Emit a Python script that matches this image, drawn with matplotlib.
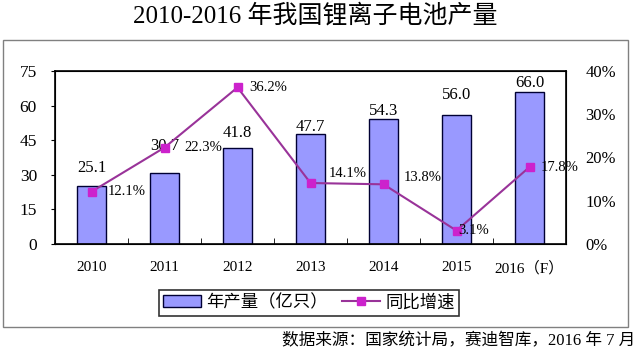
import matplotlib
matplotlib.use('Agg')
import matplotlib.pyplot as plt
import matplotlib.patches as mpatches
import numpy as np

FONTS = ['Liberation Serif', 'Noto Sans CJK SC']
plt.rcParams['font.family'] = FONTS

years = ['2010', '2011', '2012', '2013', '2014', '2015', '2016\uff08F\uff09']
output = [25.1, 30.7, 41.8, 47.7, 54.3, 56.0, 66.0]
growth = [12.1, 22.3, 36.2, 14.1, 13.8, 3.1, 17.8]

BAR_COLOR = '#9999FF'
LINE_COLOR = '#993399'
MARK_COLOR = '#CC22CC'

# label offsets in pixels (as placed in the original)
bar_lbl_dy = [18, 27, 15, 7, 8, 20, 9]
pct_lbl_off = [(16, 0), (20, 0), (12, 0), (18, 10), (20, 7), (2, 0), (11, 0)]

fig = plt.figure(figsize=(6.4, 3.53), dpi=100)
fig.patch.set_facecolor('white')

# outer grey frame
frame = mpatches.Rectangle((3 / 640, 1 - 327 / 353), 625 / 640, 287 / 353,
                           transform=fig.transFigure, fill=False,
                           edgecolor='#808080', lw=1.0)
fig.add_artist(frame)

fig.text(315 / 640, 1 - 16 / 353, '2010-2016 年我国锂离子电池产量',
         ha='center', va='center', fontsize=18, family=FONTS)

ax = fig.add_axes([55 / 640, 1 - 244 / 353, 511 / 640, 173 / 353])
x = np.arange(len(years))
ax.bar(x, output, width=0.41, color=BAR_COLOR, edgecolor='#000033',
       lw=1.0, zorder=2, label='年产量（亿只）')
ax.set_xlim(-0.5, len(years) - 0.5)
ax.set_ylim(0, 75)
ax.set_yticks(np.arange(0, 76, 15))
ax.set_xticks(x)
ax.set_xticklabels(years)
ax.set_xticks(np.arange(0.5, len(years) - 0.5, 1), minor=True)
ax.tick_params(axis='x', which='major', length=0, pad=12, labelsize=11)
ax.tick_params(axis='x', which='minor', length=4, direction='in')
ax.tick_params(axis='y', length=3, direction='out', labelsize=12.5, pad=10)
for sp in ax.spines.values():
    sp.set_linewidth(1.2)

for xi, v, dy in zip(x, output, bar_lbl_dy):
    ax.annotate(f'{v:.1f}', (xi, v), xytext=(0, dy),
                textcoords='offset pixels', ha='center', va='center',
                fontsize=12, zorder=5)

ax2 = ax.twinx()
ax2.set_ylim(0, 40)
ax2.set_yticks(np.arange(0, 41, 10))
ax2.set_yticklabels([f'{t}%' for t in range(0, 41, 10)])
ax2.tick_params(axis='y', length=0, labelsize=12, pad=14)
ax2.plot(x, growth, color=LINE_COLOR, lw=1.5, marker='s', ms=6,
         mfc=MARK_COLOR, mec=MARK_COLOR, zorder=3, label='同比增速')
for xi, g, (dx, dy) in zip(x, growth, pct_lbl_off):
    ax2.annotate(f'{g:.1f}%', (xi, g), xytext=(dx, dy),
                 textcoords='offset pixels', ha='left', va='center',
                 fontsize=10.5, zorder=5)

h1, l1 = ax.get_legend_handles_labels()
h2, l2 = ax2.get_legend_handles_labels()
leg = fig.legend(h1 + h2, l1 + l2, loc='center', ncol=2,
                 bbox_to_anchor=(309 / 640, 1 - 303 / 353), fontsize=12.5,
                 frameon=True, fancybox=False, edgecolor='black',
                 handlelength=2.2, handletextpad=0.3, columnspacing=0.8,
                 borderpad=0.25)
leg.get_frame().set_linewidth(1.2)

fig.text(635 / 640, 1 - 341 / 353, '数据来源：国家统计局，赛迪智库，2016 年 7 月',
         ha='right', va='center', fontsize=12, family=FONTS)

fig.savefig('out.png', dpi=100)
